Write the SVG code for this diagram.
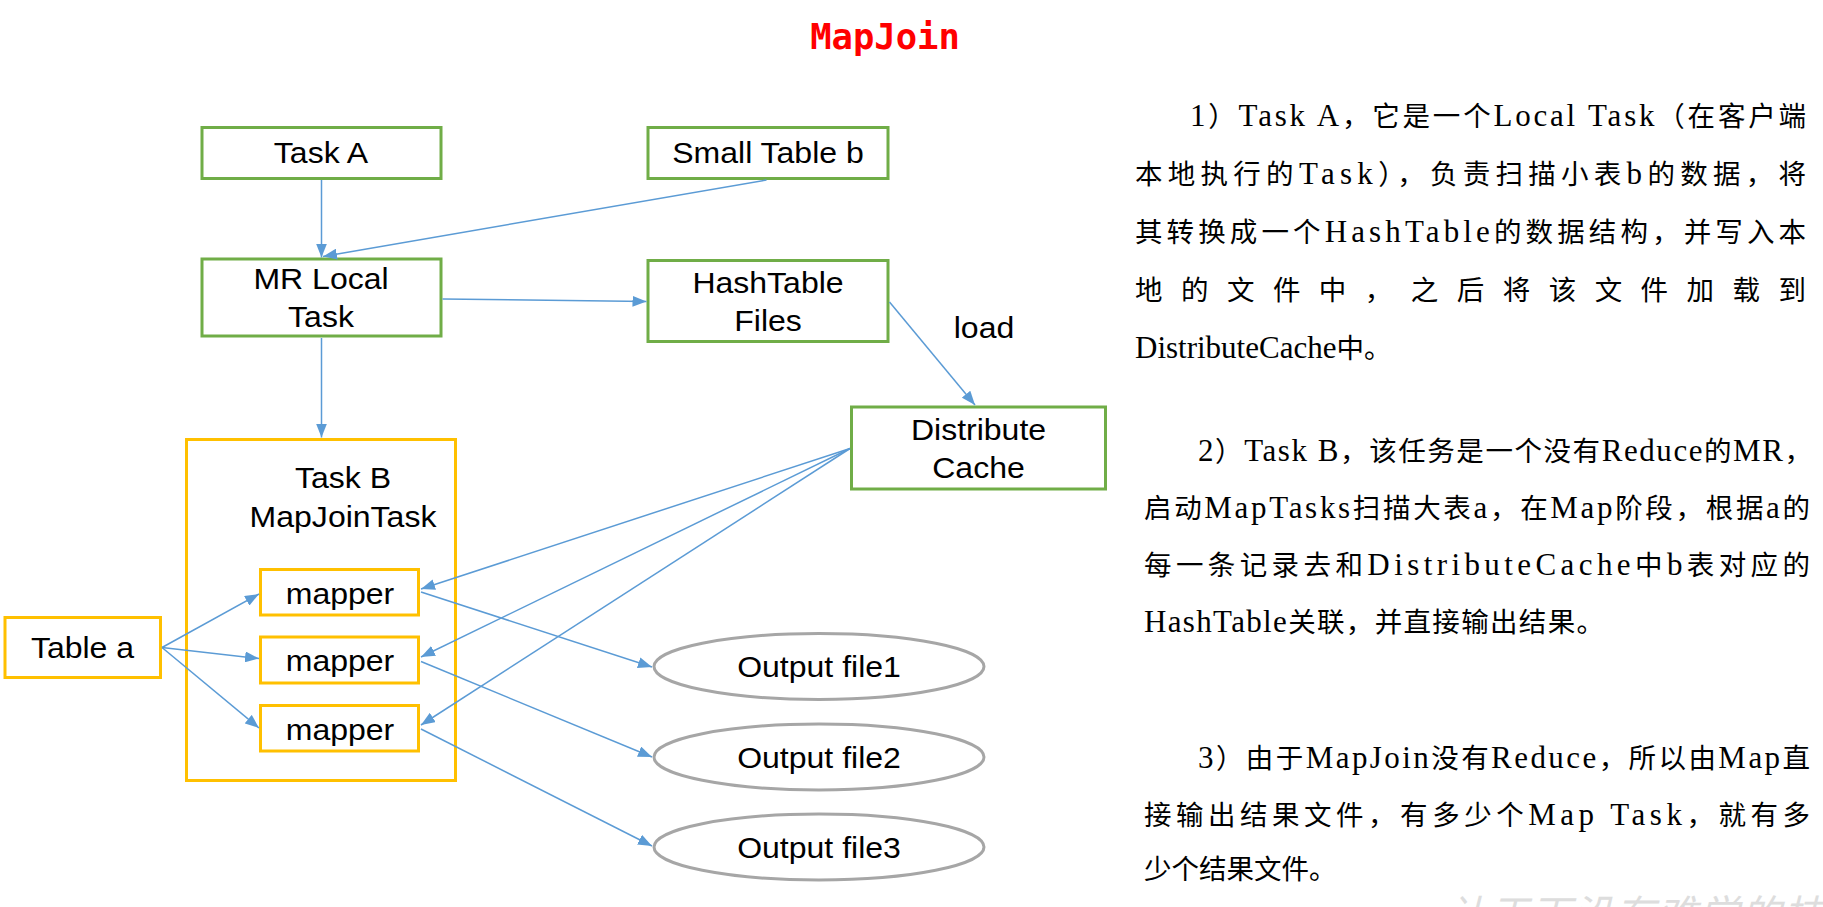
<svg xmlns="http://www.w3.org/2000/svg" width="1823" height="907" viewBox="0 0 1823 907">
<style>
.g{fill:#fff;stroke:#70AD47;stroke-width:3}
.y{fill:#fff;stroke:#FFC000;stroke-width:3}
.e{fill:#fff;stroke:#A6A6A6;stroke-width:3}
.t{font-family:"Liberation Sans",Arial,sans-serif;font-size:30px;fill:#000;text-anchor:middle}
.c{stroke:#5B9BD5;stroke-width:1.5;fill:none;marker-end:url(#ah)}
.p{font-family:"Liberation Serif","Noto Sans CJK SC",serif;font-size:27.5px;fill:#000}
.l{font-size:31px}
</style>
<defs>
<marker id="ah" markerUnits="userSpaceOnUse" markerWidth="14" markerHeight="11" refX="14" refY="5.5" orient="auto">
<path d="M0,0 L14,5.5 L0,11 z" fill="#5B9BD5"/>
</marker>
</defs>
<rect width="1823" height="907" fill="#fff"/>
<text x="885" y="49" font-family="'DejaVu Sans Mono',monospace" font-weight="bold" font-size="35.5" fill="#FF0000" text-anchor="middle">MapJoin</text>

<g id="taskA"><rect class="g" x="202" y="127.5" width="239" height="51"/><text class="t" transform="matrix(1.067 0 0 1 321 0)" x="0" y="163.5">Task A</text></g>
<g id="smallTableB"><rect class="g" x="648" y="127.5" width="240" height="51"/><text class="t" transform="matrix(1.067 0 0 1 768 0)" x="0" y="163.5">Small Table b</text></g>
<g id="mrLocalTask"><rect class="g" x="202" y="259" width="239" height="77"/><text class="t" transform="matrix(1.067 0 0 1 321 0)" x="0" y="289.5">MR Local</text><text class="t" transform="matrix(1.067 0 0 1 321 0)" x="0" y="327.5">Task</text></g>
<g id="hashTableFiles"><rect class="g" x="648" y="260.5" width="240" height="81"/><text class="t" transform="matrix(1.067 0 0 1 768 0)" x="0" y="293">HashTable</text><text class="t" transform="matrix(1.067 0 0 1 768 0)" x="0" y="331.5">Files</text></g>
<g id="loadLabel"><text class="t" transform="matrix(1.067 0 0 1 984 0)" x="0" y="338">load</text></g>
<g id="distributeCache"><rect class="g" x="851.5" y="407" width="254" height="82"/><text class="t" transform="matrix(1.067 0 0 1 978.5 0)" x="0" y="440">Distribute</text><text class="t" transform="matrix(1.067 0 0 1 978.5 0)" x="0" y="478">Cache</text></g>
<g id="taskB"><rect class="y" x="186.5" y="439.5" width="269" height="341"/><text class="t" transform="matrix(1.067 0 0 1 343 0)" x="0" y="488">Task B</text><text class="t" transform="matrix(1.067 0 0 1 343 0)" x="0" y="527">MapJoinTask</text></g>
<g id="mapper1"><rect class="y" x="260.5" y="569.5" width="158" height="45.5"/><text class="t" transform="matrix(1.067 0 0 1 340 0)" x="0" y="604">mapper</text></g>
<g id="mapper2"><rect class="y" x="260.5" y="637" width="158" height="46"/><text class="t" transform="matrix(1.067 0 0 1 340 0)" x="0" y="671.5">mapper</text></g>
<g id="mapper3"><rect class="y" x="260.5" y="705.5" width="158" height="45.5"/><text class="t" transform="matrix(1.067 0 0 1 340 0)" x="0" y="740">mapper</text></g>
<g id="tableA"><rect class="y" x="5" y="617.5" width="155.5" height="60"/><text class="t" transform="matrix(1.067 0 0 1 82.5 0)" x="0" y="658.5">Table a</text></g>
<g id="output1"><ellipse class="e" cx="819" cy="666.5" rx="165" ry="33"/><text class="t" transform="matrix(1.067 0 0 1 819 0)" x="0" y="677.5">Output file1</text></g>
<g id="output2"><ellipse class="e" cx="819" cy="757" rx="165" ry="33"/><text class="t" transform="matrix(1.067 0 0 1 819 0)" x="0" y="768">Output file2</text></g>
<g id="output3"><ellipse class="e" cx="819" cy="847" rx="165" ry="33"/><text class="t" transform="matrix(1.067 0 0 1 819 0)" x="0" y="858">Output file3</text></g>

<g id="connectors">
<line class="c" x1="321.5" y1="180" x2="321.5" y2="257.5"/>
<line class="c" x1="766.5" y1="180" x2="323" y2="256.5"/>
<line class="c" x1="442.5" y1="299" x2="646.5" y2="301.5"/>
<line class="c" x1="889.5" y1="302" x2="975" y2="405"/>
<line class="c" x1="321.5" y1="338" x2="321.5" y2="437.5"/>
<line class="c" x1="850" y1="448.5" x2="421" y2="589"/>
<line class="c" x1="850" y1="448.5" x2="421" y2="657"/>
<line class="c" x1="850" y1="448.5" x2="421" y2="725"/>
<line class="c" x1="162" y1="647.5" x2="259" y2="594"/>
<line class="c" x1="162" y1="647.5" x2="259" y2="658.5"/>
<line class="c" x1="162" y1="647.5" x2="259" y2="728"/>
<line class="c" x1="421" y1="592" x2="652" y2="667"/>
<line class="c" x1="421" y1="661.5" x2="652" y2="757"/>
<line class="c" x1="421" y1="729" x2="652" y2="846"/>
</g>

<g id="notes">
<text class="p" x="1190" y="126" textLength="616" lengthAdjust="spacing"><tspan class="l">1</tspan>）<tspan class="l">Task A</tspan>，它是一个<tspan class="l">Local Task</tspan>（在客户端</text>
<text class="p" x="1135" y="184" textLength="671" lengthAdjust="spacing">本地执行的<tspan class="l">Task</tspan>），负责扫描小表<tspan class="l">b</tspan>的数据，将</text>
<text class="p" x="1135" y="242" textLength="671" lengthAdjust="spacing">其转换成一个<tspan class="l">HashTable</tspan>的数据结构，并写入本</text>
<text class="p" x="1135" y="300" textLength="671" lengthAdjust="spacing">地的文件中，之后将该文件加载到</text>
<text class="p" x="1135" y="358"><tspan class="l">DistributeCache</tspan>中。</text>

<text class="p" x="1198" y="461" textLength="614" lengthAdjust="spacing"><tspan class="l">2</tspan>）<tspan class="l">Task B</tspan>，该任务是一个没有<tspan class="l">Reduce</tspan>的<tspan class="l">MR</tspan>，</text>
<text class="p" x="1144" y="518" textLength="666" lengthAdjust="spacing">启动<tspan class="l">MapTasks</tspan>扫描大表<tspan class="l">a</tspan>，在<tspan class="l">Map</tspan>阶段，根据<tspan class="l">a</tspan>的</text>
<text class="p" x="1144" y="575" textLength="666" lengthAdjust="spacing">每一条记录去和<tspan class="l">DistributeCache</tspan>中<tspan class="l">b</tspan>表对应的</text>
<text class="p" x="1144" y="632" textLength="460" lengthAdjust="spacing"><tspan class="l">HashTable</tspan>关联，并直接输出结果。</text>

<text class="p" x="1198" y="768" textLength="612" lengthAdjust="spacing"><tspan class="l">3</tspan>）由于<tspan class="l">MapJoin</tspan>没有<tspan class="l">Reduce</tspan>，所以由<tspan class="l">Map</tspan>直</text>
<text class="p" x="1144" y="825" textLength="666" lengthAdjust="spacing">接输出结果文件，有多少个<tspan class="l">Map Task</tspan>，就有多</text>
<text class="p" x="1144" y="879">少个结果文件。</text>
</g>
<text x="1447" y="929" font-family="'Noto Sans CJK SC',sans-serif" font-size="40" font-style="italic" fill="#DDDDDD" letter-spacing="2">让天下没有难学的技术</text>
</svg>
